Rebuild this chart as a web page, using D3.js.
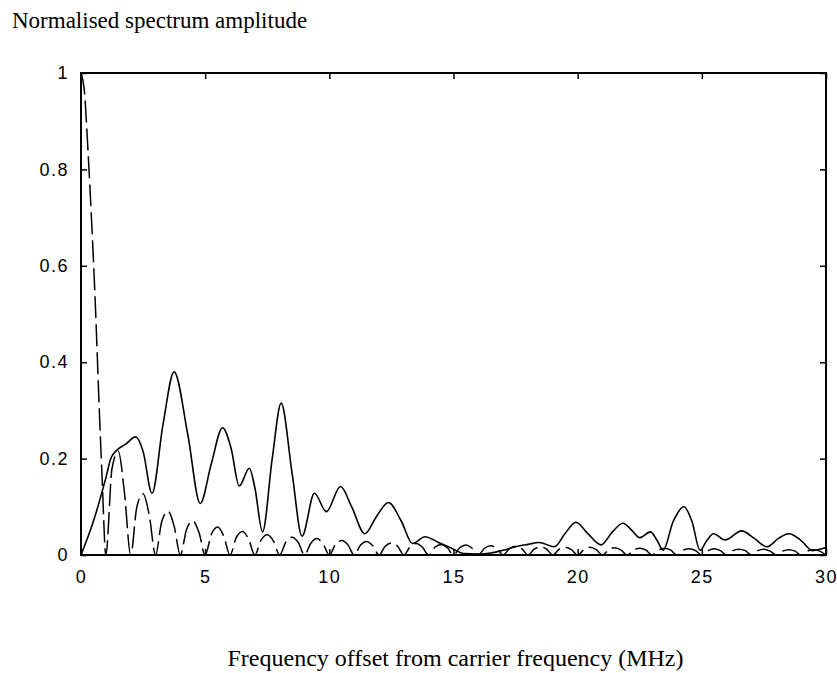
<!DOCTYPE html>
<html>
<head>
<meta charset="utf-8">
<script src="https://cdn.jsdelivr.net/npm/d3@7"></script>
<style>
  body { margin: 0; background: #fff; }
  svg { display: block; }
  .tick text { font-family: "Liberation Sans", Arial, sans-serif; font-size: 18px; fill: #000; letter-spacing: 1.5px; }
</style>
</head>
<body>
<div id="container"></div>
<script>
// chart size, plot box
const WIDTH = 837;
const HEIGHT = 673;
const MARGIN = { TOP: 73, BOTTOM: 118, LEFT: 81, RIGHT: 11 };

const width = WIDTH - MARGIN.LEFT - MARGIN.RIGHT;
const height = HEIGHT - MARGIN.TOP - MARGIN.BOTTOM;

const titleText = 'Normalised spectrum amplitude';
const xLabelText = 'Frequency offset from carrier frequency (MHz)';

const xTicks = [0, 5, 10, 15, 20, 25, 30];
const yTicks = [0, 0.2, 0.4, 0.6, 0.8, 1];

// solid curve: [MHz, amplitude]
const solidSeries = [
  [0, 0], [0.5, 0.07], [1.0, 0.16], [1.2, 0.2], [1.45, 0.218], [1.8, 0.23],
  [2.2, 0.245], [2.5, 0.215], [2.86, 0.128], [3.3, 0.27], [3.75, 0.38],
  [4.3, 0.25], [4.8, 0.107], [5.25, 0.19], [5.7, 0.264], [6.05, 0.22],
  [6.37, 0.143], [6.78, 0.18], [7.0, 0.14], [7.31, 0.048], [7.7, 0.2],
  [8.06, 0.315], [8.5, 0.17], [8.9, 0.039], [9.4, 0.128], [9.88, 0.09],
  [10.45, 0.142], [10.9, 0.1], [11.43, 0.044], [11.9, 0.08], [12.38, 0.109],
  [12.9, 0.07], [13.35, 0.024], [13.85, 0.038], [14.4, 0.026], [15.0, 0.012],
  [15.4, 0.003], [16.0, 0.002], [16.5, 0.004], [17.0, 0.01], [17.5, 0.017],
  [18.0, 0.022], [18.45, 0.026], [19.06, 0.017], [19.5, 0.045], [19.93, 0.068],
  [20.4, 0.045], [20.94, 0.021], [21.4, 0.048], [21.82, 0.066], [22.2, 0.05],
  [22.5, 0.036], [22.93, 0.048], [23.2, 0.03], [23.44, 0.01], [23.85, 0.07],
  [24.28, 0.1], [24.6, 0.07], [24.93, 0.01], [25.2, 0.03], [25.47, 0.044],
  [25.94, 0.031], [26.6, 0.05], [27.1, 0.035], [27.62, 0.017], [28.1, 0.035],
  [28.5, 0.044], [29.0, 0.03], [29.45, 0.009], [29.9, 0.014], [30, 0.015]
];

// dashed curve: main lobe, then one lobe per MHz (zero, rise, peak, fall)
const dashedMainLobe = [
  [0, 1.0], [0.14, 0.96], [0.28, 0.84], [0.43, 0.69], [0.57, 0.53],
  [0.73, 0.31], [0.85, 0.16]
];
const dashedSideLobes = [
  [0.18, 0.215, 0.129], [0.1, 0.127, 0.082], [0.069, 0.091, 0.06],
  [0.053, 0.071, 0.047], [0.043, 0.058, 0.039], [0.036, 0.049, 0.033],
  [0.031, 0.042, 0.029], [0.027, 0.037, 0.026], [0.024, 0.034, 0.023],
  [0.022, 0.03, 0.021], [0.02, 0.028, 0.019], [0.018, 0.025, 0.018],
  [0.017, 0.024, 0.016], [0.016, 0.022, 0.015], [0.015, 0.021, 0.014],
  [0.014, 0.019, 0.013], [0.013, 0.018, 0.013], [0.012, 0.017, 0.012],
  [0.012, 0.016, 0.011], [0.011, 0.016, 0.011], [0.011, 0.015, 0.01],
  [0.01, 0.014, 0.01], [0.01, 0.014, 0.01], [0.01, 0.013, 0.009],
  [0.009, 0.013, 0.009], [0.009, 0.012, 0.009], [0.009, 0.012, 0.008],
  [0.008, 0.011, 0.008], [0.008, 0.011, 0.008]
];

const svg = d3.select('#container')
  .append('svg')
  .attr('width', WIDTH)
  .attr('height', HEIGHT);

const container = svg.append('g')
  .attr('transform', `translate(${MARGIN.LEFT}, ${MARGIN.TOP})`);

const xScale = d3.scaleLinear().domain([0, 30]).range([0, width]);
const yScale = d3.scaleLinear().domain([0, 1]).range([height, 0]);

// ticks all point inwards, like the old matlab plots
container.append('g')
  .attr('class', 'x axis')
  .attr('transform', `translate(0, ${height})`)
  .call(d3.axisBottom(xScale).tickValues(xTicks).tickSize(-6).tickPadding(15)
    .tickFormat(d3.format('d')));

container.append('g')
  .attr('class', 'x axis top')
  .call(d3.axisTop(xScale).tickValues(xTicks).tickSize(-6).tickFormat(''));

container.append('g')
  .attr('class', 'y axis')
  .call(d3.axisLeft(yScale).tickValues(yTicks).tickSize(-6).tickPadding(12)
    .tickFormat(d => d === 0 || d === 1 ? d : d3.format('.1f')(d)));

container.append('g')
  .attr('class', 'y axis right')
  .attr('transform', `translate(${width}, 0)`)
  .call(d3.axisRight(yScale).tickValues(yTicks).tickSize(-6).tickFormat(''));

container.selectAll('.axis .domain').remove();
container.selectAll('.axis line').attr('stroke', '#000').attr('stroke-width', 1.5);

const line = d3.line()
  .x(d => xScale(d[0]))
  .y(d => yScale(d[1]))
  .curve(d3.curveMonotoneX);

const dashedSeries = dashedMainLobe.slice();
dashedSideLobes.forEach((lobe, i) => {
  const n = i + 1;
  dashedSeries.push([n, 0], [n + 0.25, lobe[0]], [n + 0.5, lobe[1]], [n + 0.75, lobe[2]]);
});
dashedSeries.push([30, 0]);

container.append('path')
  .datum(dashedSeries)
  .attr('fill', 'none')
  .attr('stroke', '#000')
  .attr('stroke-width', 1.5)
  .attr('stroke-dasharray', '22,6')
  .attr('d', line);

container.append('path')
  .datum(solidSeries)
  .attr('fill', 'none')
  .attr('stroke', '#000')
  .attr('stroke-width', 1.6)
  .attr('d', line);

// frame
container.append('rect')
  .attr('x', 0)
  .attr('y', 0)
  .attr('width', width)
  .attr('height', height)
  .attr('fill', 'none')
  .attr('stroke', '#000')
  .attr('stroke-width', 2);

svg.append('text')
  .attr('x', 12)
  .attr('y', 28)
  .attr('font-family', '"Liberation Serif", "Times New Roman", serif')
  .attr('font-size', 23)
  .text(titleText);

svg.append('text')
  .attr('x', MARGIN.LEFT + width / 2 + 2)
  .attr('y', 666)
  .attr('text-anchor', 'middle')
  .attr('font-family', '"Liberation Serif", "Times New Roman", serif')
  .attr('font-size', 24)
  .text(xLabelText);
</script>
</body>
</html>
